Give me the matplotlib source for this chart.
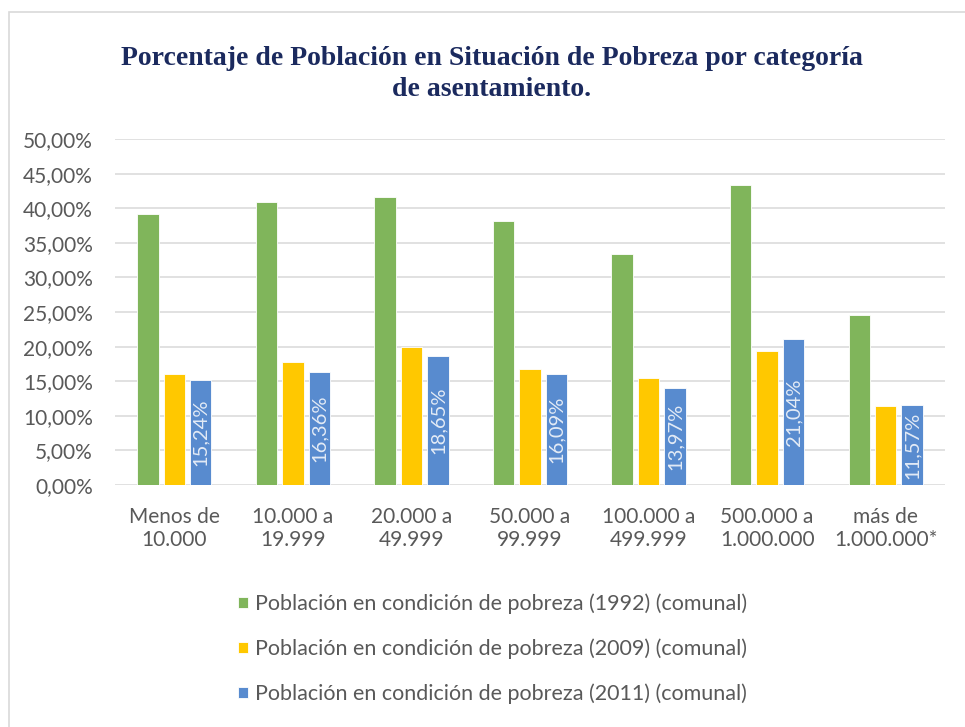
import numpy as np
import matplotlib
matplotlib.use("Agg")
import matplotlib.pyplot as plt
from matplotlib.patches import Rectangle
from matplotlib.ticker import FuncFormatter

# Poverty share by settlement size
categories = ["Menos de\n10.000", "10.000 a\n19.999", "20.000 a\n49.999", "50.000 a\n99.999",
              "100.000 a\n499.999", "500.000 a\n1.000.000", "más de\n1.000.000*"]
pobreza_1992 = [39.2, 40.9, 41.6, 38.1, 33.4, 43.4, 24.5]
pobreza_2009 = [16.0, 17.8, 20.0, 16.7, 15.4, 19.4, 11.4]
pobreza_2011 = [15.24, 16.36, 18.65, 16.09, 13.97, 21.04, 11.57]
series_names = ["Población en condición de pobreza (1992) (comunal)",
                "Población en condición de pobreza (2009) (comunal)",
                "Población en condición de pobreza (2011) (comunal)"]

colors = ["#80b55b", "#ffc800", "#588bcf"]
text_gray = "#595959"
font = "Lato"

fig = plt.figure(figsize=(9.65, 7.27), dpi=100)
fig.patch.set_facecolor("white")

# light frame around the chart area
fig.patches.append(Rectangle((9 / 965, -0.01), 1.0, 1 - 12 / 727 + 0.01,
                             transform=fig.transFigure, fill=False,
                             edgecolor="#d9d9d9", linewidth=1.2))

ax = fig.add_axes([115 / 965, 1 - 485 / 727, 830 / 965, 346 / 727])

x = np.arange(len(categories))
w = 0.18
off = 0.223
bars = []
for i, (vals, c) in enumerate(zip([pobreza_1992, pobreza_2009, pobreza_2011], colors)):
    b = ax.bar(x + (i - 1) * off, vals, width=w, color=c, edgecolor="white",
               linewidth=0.6, zorder=3, label=series_names[i])
    bars.append(b)

# values written inside the 2011 bars
ax.bar_label(bars[2], labels=[f"{v:.2f}%".replace(".", ",") for v in pobreza_2011],
             label_type="center", rotation=90, color="#e3ebf6", fontsize=14.5,
             family=font, zorder=4)

ax.set_xlim(-0.5, len(categories) - 0.5)
ax.set_ylim(0, 50)
ax.set_yticks(np.arange(0, 51, 5))
ax.yaxis.set_major_formatter(FuncFormatter(lambda v, p: f"{v:.2f}%".replace(".", ",")))
ax.set_xticks(x)
ax.set_xticklabels(categories)
ax.grid(axis="y", color="#d9d9d9", linewidth=1.1, zorder=0)
for s in ax.spines.values():
    s.set_visible(False)
ax.tick_params(axis="both", length=0, colors=text_gray, labelsize=15)
ax.tick_params(axis="y", pad=16)
ax.tick_params(axis="x", pad=16)
for lab in ax.get_xticklabels() + ax.get_yticklabels():
    lab.set_family(font)
    lab.set_linespacing(1.2)

fig.text(492 / 965, 1 - 74 / 727,
         "Porcentaje de Población en Situación de Pobreza por categoría\nde asentamiento.",
         ha="center", va="center", family="Liberation Serif", fontweight="bold",
         fontsize=20, color="#1b2a5e", linespacing=1.3)

leg = fig.legend(handles=bars, labels=series_names, loc="upper left",
                 bbox_to_anchor=(219 / 965, 1 - 574 / 727), frameon=False,
                 handlelength=0.45, handleheight=0.45, handletextpad=0.33,
                 labelspacing=1.14, prop={"family": font, "size": 15.5})
for t in leg.get_texts():
    t.set_color(text_gray)

fig.savefig("out.png", dpi=100, facecolor="white")
